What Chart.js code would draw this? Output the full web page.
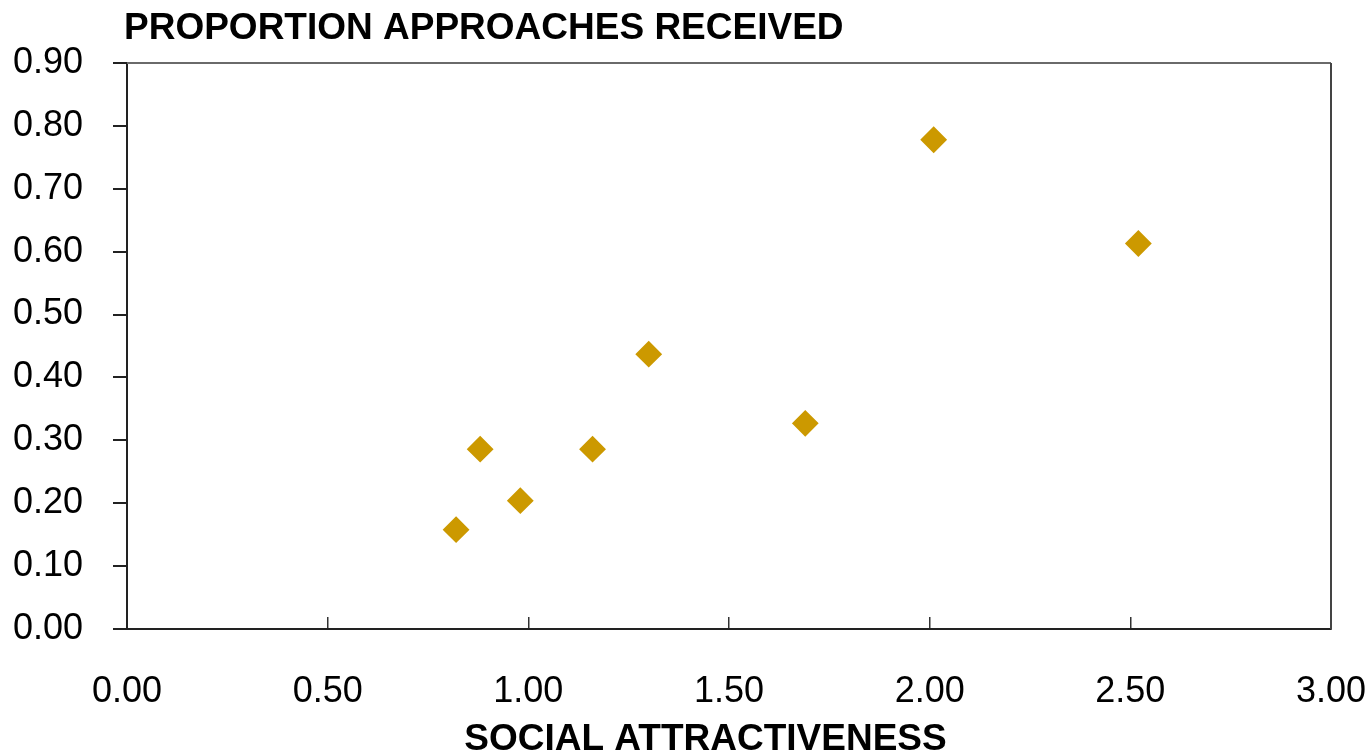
<!DOCTYPE html>
<html>
<head>
<meta charset="utf-8">
<script src="https://cdn.jsdelivr.net/npm/chart.js@4/dist/chart.umd.min.js"></script>
<style>
  body { margin: 0; background: #fff; }
</style>
</head>
<body>
<canvas id="myChart" width="1367" height="756"></canvas>
<script>
// values
const socialAttractiveness = [0.82, 0.88, 0.98, 1.16, 1.30, 1.69, 2.01, 2.52];
const proportionApproaches = [0.158, 0.286, 0.204, 0.286, 0.437, 0.327, 0.778, 0.613];
const chartTitle = 'PROPORTION APPROACHES RECEIVED';
const xTitle = 'SOCIAL ATTRACTIVENESS';

const points = [];
for (let i = 0; i < socialAttractiveness.length; i++) {
    points.push({ x: socialAttractiveness[i], y: proportionApproaches[i] });
}

const boldFont = 'bold 37px "Liberation Sans", Arial, sans-serif';

// titles are placed like the original (not centred on the plot), plus top/right frame
const framePlugin = {
    id: 'frame',
    beforeDatasetsDraw(chart) {
        const ctx = chart.ctx;
        const a = chart.chartArea;
        ctx.save();
        ctx.lineWidth = 2;
        ctx.strokeStyle = '#6a6a6a';
        ctx.beginPath();
        ctx.moveTo(a.left, a.top);
        ctx.lineTo(a.right, a.top);
        ctx.stroke();
        ctx.strokeStyle = '#444';
        ctx.beginPath();
        ctx.moveTo(a.right, a.top);
        ctx.lineTo(a.right, a.bottom);
        ctx.stroke();
        ctx.restore();
    },
    afterDraw(chart) {
        const ctx = chart.ctx;
        ctx.save();
        ctx.font = boldFont;
        ctx.fillStyle = '#000';
        ctx.textAlign = 'left';
        ctx.textBaseline = 'alphabetic';
        ctx.fillText(chartTitle, chart.chartArea.left - 3, 39);
        ctx.textAlign = 'center';
        ctx.fillText(xTitle, chart.width / 2 + 22, 750);
        ctx.restore();
    }
};

const ctx = document.getElementById('myChart');
new Chart(ctx, {
    type: 'scatter',
    data: {
        datasets: [{
            data: points,
            backgroundColor: '#CC9900',
            borderColor: '#CC9900',
            borderWidth: 2,
            pointStyle: 'rectRot',
            pointRadius: 12,
            pointHoverRadius: 12
        }]
    },
    options: {
        responsive: false,
        animation: false,
        layout: { padding: { top: 63, right: 36, left: 0, bottom: 0 } },
        plugins: {
            legend: { display: false },
            tooltip: { enabled: false }
        },
        scales: {
            x: {
                type: 'linear',
                min: 0,
                max: 3,
                afterFit: (scale) => {
                    scale.height = 127;
                    scale.paddingLeft = 0;
                    scale.paddingRight = 0;
                },
                ticks: {
                    stepSize: 0.5,
                    padding: 53,
                    color: '#000',
                    font: { family: '"Liberation Sans", Arial, sans-serif', size: 36 },
                    callback: (v) => v.toFixed(2)
                },
                grid: {
                    drawOnChartArea: false,
                    drawTicks: true,
                    tickLength: -12,
                    color: '#333',
                    lineWidth: 1.5
                },
                border: { display: true, color: '#222', width: 2 }
            },
            y: {
                type: 'linear',
                min: 0,
                max: 0.9,
                afterFit: (scale) => { scale.width = 127; },
                ticks: {
                    stepSize: 0.1,
                    padding: 30,
                    color: '#000',
                    font: { family: '"Liberation Sans", Arial, sans-serif', size: 36 },
                    callback: (v) => v.toFixed(2)
                },
                grid: {
                    drawOnChartArea: false,
                    drawTicks: true,
                    tickLength: 14,
                    color: '#222',
                    lineWidth: 2
                },
                border: { display: true, color: '#222', width: 2 }
            }
        }
    },
    plugins: [framePlugin]
});
</script>
</body>
</html>
